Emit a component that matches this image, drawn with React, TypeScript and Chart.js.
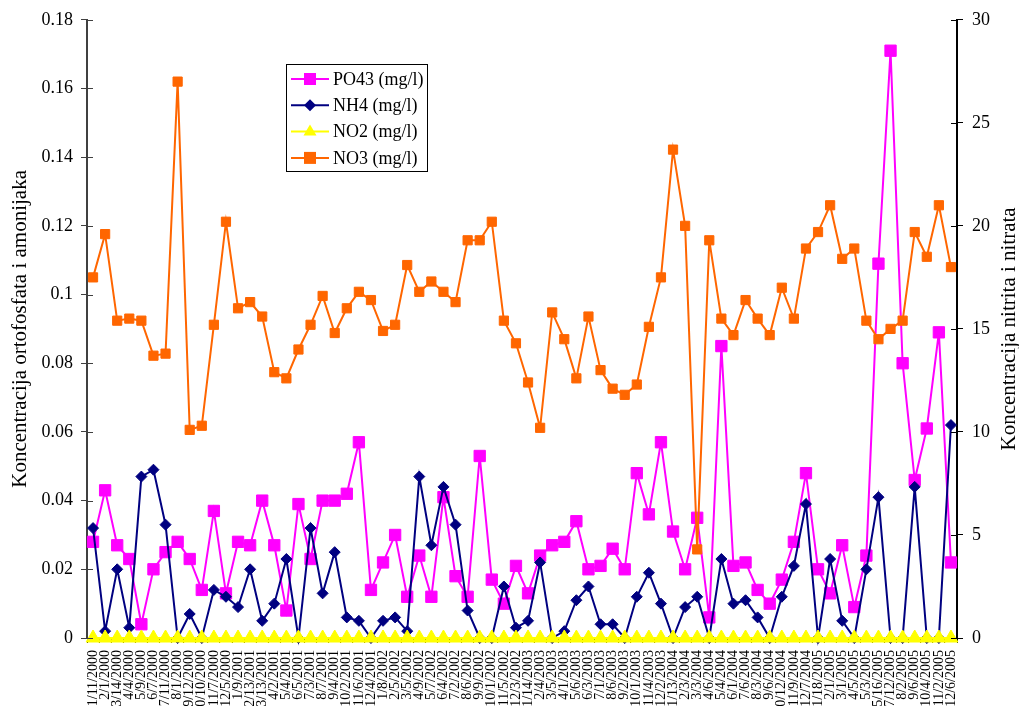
import React, { useEffect, useRef } from "react";
import { Chart, registerables } from "chart.js";

Chart.register(...registerables);

const labels = [
  "1/11/2000", "2/1/2000", "3/14/2000", "4/4/2000", "5/9/2000", "6/7/2000", "7/11/2000", "8/1/2000", "9/12/2000", "10/10/2000", "11/7/2000", "12/5/2000",
  "1/9/2001", "2/13/2001", "3/13/2001", "4/2/2001", "5/4/2001", "6/5/2001", "7/3/2001", "8/7/2001", "9/4/2001", "10/2/2001", "11/6/2001", "12/4/2001",
  "1/8/2002", "2/5/2002", "3/5/2002", "4/9/2002", "5/7/2002", "6/4/2002", "7/2/2002", "8/6/2002", "9/9/2002", "10/1/2002", "11/5/2002", "12/3/2002",
  "1/14/2003", "2/4/2003", "3/5/2003", "4/1/2003", "5/6/2003", "6/3/2003", "7/1/2003", "8/6/2003", "9/2/2003", "10/1/2003", "11/4/2003", "12/2/2003",
  "1/13/2004", "2/3/2004", "3/3/2004", "4/6/2004", "5/4/2004", "6/1/2004", "7/6/2004", "8/3/2004", "9/6/2004", "10/12/2004", "11/9/2004", "12/7/2004",
  "1/18/2005", "2/1/2005", "3/1/2005", "4/5/2005", "5/3/2005", "5/16/2005", "7/12/2005", "8/2/2005", "9/6/2005", "10/4/2005", "11/2/2005", "12/6/2005",
];

const po43 = [
  0.028, 0.043, 0.027, 0.023, 0.004, 0.020, 0.025, 0.028, 0.023, 0.014, 0.037, 0.013,
  0.028, 0.027, 0.040, 0.027, 0.008, 0.039, 0.023, 0.040, 0.040, 0.042, 0.057, 0.014,
  0.022, 0.030, 0.012, 0.024, 0.012, 0.041, 0.018, 0.012, 0.053, 0.017, 0.010, 0.021,
  0.013, 0.024, 0.027, 0.028, 0.034, 0.020, 0.021, 0.026, 0.020, 0.048, 0.036, 0.057,
  0.031, 0.020, 0.035, 0.006, 0.085, 0.021, 0.022, 0.014, 0.010, 0.017, 0.028, 0.048,
  0.020, 0.013, 0.027, 0.009, 0.024, 0.109, 0.171, 0.080, 0.046, 0.061, 0.089, 0.022,
];

const nh4 = [
  0.032, 0.002, 0.020, 0.003, 0.047, 0.049, 0.033, 0, 0.007, 0, 0.014, 0.012,
  0.009, 0.020, 0.005, 0.010, 0.023, 0, 0.032, 0.013, 0.025, 0.006, 0.005, 0,
  0.005, 0.006, 0.002, 0.047, 0.027, 0.044, 0.033, 0.008, 0, 0, 0.015, 0.003,
  0.005, 0.022, 0, 0.002, 0.011, 0.015, 0.004, 0.004, 0, 0.012, 0.019, 0.010,
  0, 0.009, 0.012, 0, 0.023, 0.010, 0.011, 0.006, 0, 0.012, 0.021, 0.039,
  0, 0.023, 0.005, 0, 0.020, 0.041, 0, 0, 0.044, 0, 0, 0.062,
];

const no2 = [
  0, 0, 0, 0, 0, 0, 0, 0, 0, 0, 0, 0,
  0, 0, 0, 0, 0, 0, 0, 0, 0, 0, 0, 0,
  0, 0, 0, 0, 0, 0, 0, 0, 0, 0, 0, 0,
  0, 0, 0, 0, 0, 0, 0, 0, 0, 0, 0, 0,
  0, 0, 0, 0, 0, 0, 0, 0, 0, 0, 0, 0,
  0, 0, 0, 0, 0, 0, 0, 0, 0, 0, 0, 0,
];

const no3 = [
  17.5, 19.6, 15.4, 15.5, 15.4, 13.7, 13.8, 27.0, 10.1, 10.3, 15.2, 20.2,
  16.0, 16.3, 15.6, 12.9, 12.6, 14.0, 15.2, 16.6, 14.8, 16.0, 16.8, 16.4,
  14.9, 15.2, 18.1, 16.8, 17.3, 16.8, 16.3, 19.3, 19.3, 20.2, 15.4, 14.3,
  12.4, 10.2, 15.8, 14.5, 12.6, 15.6, 13.0, 12.1, 11.8, 12.3, 15.1, 17.5,
  23.7, 20.0, 4.3, 19.3, 15.5, 14.7, 16.4, 15.5, 14.7, 17.0, 15.5, 18.9,
  19.7, 21.0, 18.4, 18.9, 15.4, 14.5, 15.0, 15.4, 19.7, 18.5, 21.0, 18.0,
];

const seriesNames = ["PO43 (mg/l)", "NH4 (mg/l)", "NO2 (mg/l)", "NO3 (mg/l)"];
const leftTitle = "Koncentracija ortofosfata i amonijaka";
const rightTitle = "Koncentracija nitrita i nitrata";

const SERIF = "'Liberation Serif', 'Times New Roman', serif";

function drawMarker(ctx: CanvasRenderingContext2D, style: string, x: number, y: number, color: string) {
  ctx.fillStyle = color;
  ctx.beginPath();
  if (style === "rect") {
    ctx.rect(x - 6, y - 6, 12, 12);
  } else if (style === "rectRot") {
    ctx.moveTo(x, y - 6);
    ctx.lineTo(x + 6, y);
    ctx.lineTo(x, y + 6);
    ctx.lineTo(x - 6, y);
    ctx.closePath();
  } else {
    ctx.moveTo(x, y - 7);
    ctx.lineTo(x + 6.5, y + 4);
    ctx.lineTo(x - 6.5, y + 4);
    ctx.closePath();
  }
  ctx.fill();
}

const boxLegend = {
  id: "boxLegend",
  afterDraw(chart: any) {
    const ctx: CanvasRenderingContext2D = chart.ctx;
    ctx.save();
    const x0 = 286, y0 = 64, w = 141, h = 107;
    ctx.fillStyle = "#fff";
    ctx.fillRect(x0, y0, w, h);
    ctx.strokeStyle = "#000";
    ctx.lineWidth = 1;
    ctx.strokeRect(x0 + 0.5, y0 + 0.5, w, h);
    chart.data.datasets.forEach((ds: any, i: number) => {
      const y = 79 + i * 26.3;
      ctx.strokeStyle = ds.borderColor;
      ctx.lineWidth = 2;
      ctx.beginPath();
      ctx.moveTo(291, y);
      ctx.lineTo(329, y);
      ctx.stroke();
      drawMarker(ctx, ds.pointStyle, 310, y, ds.pointBackgroundColor);
      ctx.fillStyle = "#000";
      ctx.font = `18px ${SERIF}`;
      ctx.textAlign = "left";
      ctx.textBaseline = "middle";
      ctx.fillText(ds.label, 333, y + 1);
    });
    ctx.restore();
  },
};

const axisTitles = {
  id: "axisTitles",
  afterDraw(chart: any) {
    const ctx: CanvasRenderingContext2D = chart.ctx;
    const { top, bottom, left, right } = chart.chartArea;
    const cy = (top + bottom) / 2;
    ctx.save();
    ctx.fillStyle = "#000";
    ctx.font = `21px ${SERIF}`;
    ctx.textAlign = "center";
    ctx.textBaseline = "middle";
    ctx.translate(20, cy);
    ctx.rotate(-Math.PI / 2);
    ctx.fillText(leftTitle, 0, 0);
    ctx.restore();
    ctx.save();
    ctx.fillStyle = "#000";
    ctx.font = `21px ${SERIF}`;
    ctx.textAlign = "center";
    ctx.textBaseline = "middle";
    ctx.translate(1009, cy);
    ctx.rotate(-Math.PI / 2);
    ctx.fillText(rightTitle, 0, 0);
    ctx.restore();
    // inner tick marks
    ctx.save();
    const yl = chart.scales.y;
    const yr = chart.scales.y1;
    ctx.lineWidth = 1;
    ctx.strokeStyle = "#404040";
    yl.ticks.forEach((t: any) => {
      const py = Math.round(yl.getPixelForValue(t.value)) + 0.5;
      ctx.beginPath();
      ctx.moveTo(left, py);
      ctx.lineTo(left + 6, py);
      ctx.stroke();
    });
    ctx.strokeStyle = "#000";
    yr.ticks.forEach((t: any) => {
      const py = Math.round(yr.getPixelForValue(t.value)) + 0.5;
      ctx.beginPath();
      ctx.moveTo(right - 6, py);
      ctx.lineTo(right, py);
      ctx.stroke();
    });
    ctx.restore();
  },
};

export default function App() {
  const ref = useRef<HTMLCanvasElement | null>(null);

  useEffect(() => {
    if (!ref.current) return;
    const chart = new Chart(ref.current, {
      type: "line",
      data: {
        labels,
        datasets: [
          {
            label: seriesNames[0],
            data: po43,
            yAxisID: "y",
            borderColor: "#FF00FF",
            backgroundColor: "#FF00FF",
            borderWidth: 2,
            pointStyle: "rect",
            pointRadius: 8,
            pointBackgroundColor: "#FF00FF",
            pointBorderColor: "#FF00FF",
            pointBorderWidth: 1,
            tension: 0,
            clip: false,
            order: 3,
          },
          {
            label: seriesNames[1],
            data: nh4,
            yAxisID: "y",
            borderColor: "#000080",
            backgroundColor: "#000080",
            borderWidth: 2,
            pointStyle: "rectRot",
            pointRadius: 5.5,
            pointBackgroundColor: "#000080",
            pointBorderColor: "#000080",
            pointBorderWidth: 1,
            tension: 0,
            clip: false,
            order: 2,
          },
          {
            label: seriesNames[2],
            data: no2,
            yAxisID: "y1",
            borderColor: "#FFFF00",
            backgroundColor: "#FFFF00",
            borderWidth: 2,
            pointStyle: "triangle",
            pointRadius: 8,
            pointBackgroundColor: "#FFFF00",
            pointBorderColor: "#FFFF00",
            pointBorderWidth: 1,
            tension: 0,
            clip: false,
            order: 1,
          },
          {
            label: seriesNames[3],
            data: no3,
            yAxisID: "y1",
            borderColor: "#FF6600",
            backgroundColor: "#FF6600",
            borderWidth: 2,
            pointStyle: "rect",
            pointRadius: 6.5,
            pointBackgroundColor: "#FF6600",
            pointBorderColor: "#FF6600",
            pointBorderWidth: 1,
            tension: 0,
            clip: false,
            order: 0,
          },
        ],
      },
      options: {
        responsive: true,
        maintainAspectRatio: false,
        animation: false,
        layout: { padding: { top: 18, left: 0, right: 0, bottom: 0 } },
        plugins: {
          legend: { display: false },
          tooltip: { enabled: false },
        },
        scales: {
          x: {
            type: "category",
            offset: true,
            grid: { display: true, drawOnChartArea: false, tickLength: 5, color: "#000", offset: true },
            border: { display: true, color: "#000", width: 1 },
            ticks: {
              autoSkip: false,
              maxRotation: 90,
              minRotation: 90,
              padding: 7,
              color: "#000",
              font: { family: SERIF, size: 14 },
            },
            afterFit: (s: any) => {
              s.height = 68;
            },
          },
          y: {
            position: "left",
            min: 0,
            max: 0.18,
            grid: { drawOnChartArea: false, tickLength: 6, color: "#404040" },
            border: { display: true, color: "#404040", width: 2 },
            ticks: {
              stepSize: 0.02,
              padding: 8,
              color: "#000",
              font: { family: SERIF, size: 18 },
              callback: (v: any) => String(+Number(v).toFixed(2)),
            },
            afterFit: (s: any) => {
              s.width = 87;
            },
          },
          y1: {
            position: "right",
            min: 0,
            max: 30,
            grid: { drawOnChartArea: false, tickLength: 6, color: "#000" },
            border: { display: true, color: "#000", width: 2 },
            ticks: {
              stepSize: 5,
              padding: 9,
              color: "#000",
              font: { family: SERIF, size: 18 },
            },
            afterFit: (s: any) => {
              s.width = 62;
            },
          },
        },
      },
      plugins: [boxLegend, axisTitles],
    });
    return () => chart.destroy();
  }, []);

  return (
    <div style={{ position: "fixed", left: 0, top: 0, width: 1019, height: 706, background: "#fff" }}>
      <canvas ref={ref} />
    </div>
  );
}
